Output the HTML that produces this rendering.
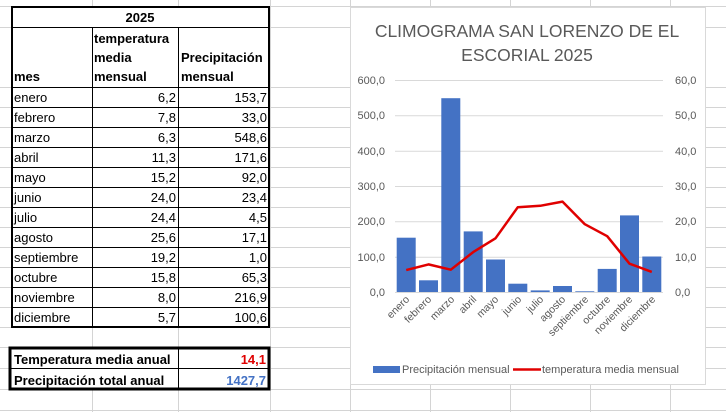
<!DOCTYPE html>
<html><head><meta charset="utf-8"><style>
body{margin:0;width:726px;height:412px;overflow:hidden;background:#fff;font-family:"Liberation Sans",sans-serif;}
</style></head><body>
<svg width="726" height="412" xmlns="http://www.w3.org/2000/svg" font-family="Liberation Sans, sans-serif">
<g stroke="#d4d4d4" stroke-width="1">
<line x1="0" y1="6.5" x2="726" y2="6.5"/><line x1="0" y1="27.5" x2="726" y2="27.5"/>
<line x1="0" y1="87.5" x2="726" y2="87.5"/><line x1="0" y1="107.5" x2="726" y2="107.5"/>
<line x1="0" y1="127.5" x2="726" y2="127.5"/><line x1="0" y1="147.5" x2="726" y2="147.5"/>
<line x1="0" y1="167.5" x2="726" y2="167.5"/><line x1="0" y1="187.5" x2="726" y2="187.5"/>
<line x1="0" y1="207.5" x2="726" y2="207.5"/><line x1="0" y1="227.5" x2="726" y2="227.5"/>
<line x1="0" y1="247.5" x2="726" y2="247.5"/><line x1="0" y1="267.5" x2="726" y2="267.5"/>
<line x1="0" y1="287.5" x2="726" y2="287.5"/><line x1="0" y1="307.5" x2="726" y2="307.5"/>
<line x1="0" y1="327.5" x2="726" y2="327.5"/><line x1="0" y1="347.5" x2="726" y2="347.5"/>
<line x1="0" y1="368.5" x2="726" y2="368.5"/><line x1="0" y1="389.5" x2="726" y2="389.5"/>
<line x1="0" y1="410.5" x2="726" y2="410.5"/>
<line x1="92.5" y1="0" x2="92.5" y2="412"/><line x1="178.5" y1="0" x2="178.5" y2="412"/>
<line x1="270.5" y1="0" x2="270.5" y2="412"/><line x1="350.5" y1="0" x2="350.5" y2="412"/>
<line x1="430.5" y1="0" x2="430.5" y2="412"/><line x1="510.5" y1="0" x2="510.5" y2="412"/>
<line x1="590.5" y1="0" x2="590.5" y2="412"/><line x1="670.5" y1="0" x2="670.5" y2="412"/>
</g>
<g fill="#fff"><rect x="11" y="7" width="259" height="320"/><rect x="11" y="348" width="258" height="41"/></g>
<g stroke="#000" stroke-width="1">
<line x1="11" y1="27.5" x2="270" y2="27.5"/><line x1="11" y1="87.5" x2="270" y2="87.5"/>
<line x1="11" y1="107.5" x2="270" y2="107.5"/><line x1="11" y1="127.5" x2="270" y2="127.5"/>
<line x1="11" y1="147.5" x2="270" y2="147.5"/><line x1="11" y1="167.5" x2="270" y2="167.5"/>
<line x1="11" y1="187.5" x2="270" y2="187.5"/><line x1="11" y1="207.5" x2="270" y2="207.5"/>
<line x1="11" y1="227.5" x2="270" y2="227.5"/><line x1="11" y1="247.5" x2="270" y2="247.5"/>
<line x1="11" y1="267.5" x2="270" y2="267.5"/><line x1="11" y1="287.5" x2="270" y2="287.5"/>
<line x1="11" y1="307.5" x2="270" y2="307.5"/>
<line x1="92.5" y1="27" x2="92.5" y2="327"/><line x1="178.5" y1="27" x2="178.5" y2="327"/>
<line x1="11" y1="368.5" x2="269" y2="368.5"/><line x1="178.5" y1="348" x2="178.5" y2="389"/>
</g>
<rect x="12" y="7" width="257" height="320" fill="none" stroke="#000" stroke-width="2"/>
<rect x="10" y="348" width="259" height="41" fill="none" stroke="#000" stroke-width="3"/>
<g font-size="13" fill="#000">
<text x="140" y="22" text-anchor="middle" font-weight="bold">2025</text>
<text x="94" y="43" font-weight="bold">temperatura</text>
<text x="94" y="62" font-weight="bold">media</text>
<text x="94" y="81" font-weight="bold">mensual</text>
<text x="181" y="62" font-weight="bold">Precipitación</text>
<text x="181" y="81" font-weight="bold">mensual</text>
<text x="14" y="81" font-weight="bold">mes</text>
<text x="14" y="102">enero</text><text x="14" y="122">febrero</text><text x="14" y="142">marzo</text>
<text x="14" y="162">abril</text><text x="14" y="182">mayo</text><text x="14" y="202">junio</text>
<text x="14" y="222">julio</text><text x="14" y="242">agosto</text><text x="14" y="262">septiembre</text>
<text x="14" y="282">octubre</text><text x="14" y="302">noviembre</text><text x="14" y="322">diciembre</text>
<g text-anchor="end">
<text x="176" y="102">6,2</text><text x="176" y="122">7,8</text><text x="176" y="142">6,3</text>
<text x="176" y="162">11,3</text><text x="176" y="182">15,2</text><text x="176" y="202">24,0</text>
<text x="176" y="222">24,4</text><text x="176" y="242">25,6</text><text x="176" y="262">19,2</text>
<text x="176" y="282">15,8</text><text x="176" y="302">8,0</text><text x="176" y="322">5,7</text>
<text x="267" y="102">153,7</text><text x="267" y="122">33,0</text><text x="267" y="142">548,6</text>
<text x="267" y="162">171,6</text><text x="267" y="182">92,0</text><text x="267" y="202">23,4</text>
<text x="267" y="222">4,5</text><text x="267" y="242">17,1</text><text x="267" y="262">1,0</text>
<text x="267" y="282">65,3</text><text x="267" y="302">216,9</text><text x="267" y="322">100,6</text>
<text x="266" y="364" font-weight="bold" fill="#e00000">14,1</text>
<text x="266" y="385" font-weight="bold" fill="#4472c4">1427,7</text>
</g>
<text x="14" y="364" font-weight="bold">Temperatura media anual</text>
<text x="14" y="385" font-weight="bold">Precipitación total anual</text>
</g>
<rect x="350.5" y="7.5" width="355" height="377" fill="#fff" stroke="#d9d9d9"/>
<g font-size="17.5" fill="#595959" text-anchor="middle">
<text x="527" y="37">CLIMOGRAMA SAN LORENZO DE EL</text>
<text x="527" y="61">ESCORIAL 2025</text>
</g>
<g stroke="#d9d9d9" stroke-width="1">
<line x1="395" y1="80.5" x2="663" y2="80.5"/><line x1="395" y1="115.8" x2="663" y2="115.8"/>
<line x1="395" y1="151.2" x2="663" y2="151.2"/><line x1="395" y1="186.5" x2="663" y2="186.5"/>
<line x1="395" y1="221.8" x2="663" y2="221.8"/><line x1="395" y1="257.2" x2="663" y2="257.2"/>
<line x1="395" y1="292.5" x2="663" y2="292.5"/>
</g>
<g font-size="11" fill="#595959">
<g text-anchor="end">
<text x="385" y="84">600,0</text><text x="385" y="119">500,0</text><text x="385" y="155">400,0</text>
<text x="385" y="190">300,0</text><text x="385" y="225">200,0</text><text x="385" y="261">100,0</text><text x="385" y="296">0,0</text>
</g>
<text x="675" y="84">60,0</text><text x="675" y="119">50,0</text><text x="675" y="155">40,0</text>
<text x="675" y="190">30,0</text><text x="675" y="225">20,0</text><text x="675" y="261">10,0</text><text x="675" y="296">0,0</text>
</g>
<g fill="#4472c4">
<rect x="396.7" y="237.7" width="19" height="54.3"/><rect x="419" y="280.3" width="19" height="11.7"/>
<rect x="441.3" y="98.2" width="19" height="193.8"/><rect x="463.7" y="231.4" width="19" height="60.6"/>
<rect x="486" y="259.5" width="19" height="32.5"/><rect x="508.3" y="283.7" width="19" height="8.3"/>
<rect x="530.7" y="290.4" width="19" height="1.6"/><rect x="553" y="286" width="19" height="6"/>
<rect x="575.3" y="291.3" width="19" height="0.7"/><rect x="597.7" y="268.9" width="19" height="23.1"/>
<rect x="620" y="215.4" width="19" height="76.6"/><rect x="642.3" y="256.5" width="19" height="35.5"/>
</g>
<polyline fill="none" stroke="#e00000" stroke-width="2.5" stroke-linejoin="round" points="406.2,270.1 428.5,264.4 450.8,269.7 473.2,252.1 495.5,238.3 517.8,207.2 540.2,205.8 562.5,201.6 584.8,224.2 607.2,236.2 629.5,263.7 651.8,271.9"/>
<g font-size="10.5" fill="#595959" text-anchor="end">
<text transform="translate(410,300) rotate(-45)">enero</text>
<text transform="translate(432,300) rotate(-45)">febrero</text>
<text transform="translate(455,300) rotate(-45)">marzo</text>
<text transform="translate(477,300) rotate(-45)">abril</text>
<text transform="translate(499,300) rotate(-45)">mayo</text>
<text transform="translate(522,300) rotate(-45)">junio</text>
<text transform="translate(544,300) rotate(-45)">julio</text>
<text transform="translate(566,300) rotate(-45)">agosto</text>
<text transform="translate(589,300) rotate(-45)">septiembre</text>
<text transform="translate(611,300) rotate(-45)">octubre</text>
<text transform="translate(633,300) rotate(-45)">noviembre</text>
<text transform="translate(656,300) rotate(-45)">diciembre</text>
</g>
<rect x="373" y="366" width="27" height="7" fill="#4472c4"/>
<line x1="513" y1="369.5" x2="541" y2="369.5" stroke="#e00000" stroke-width="2.5"/>
<g font-size="11" fill="#595959">
<text x="402" y="373">Precipitación mensual</text>
<text x="542" y="373">temperatura media mensual</text>
</g>
</svg>
</body></html>
